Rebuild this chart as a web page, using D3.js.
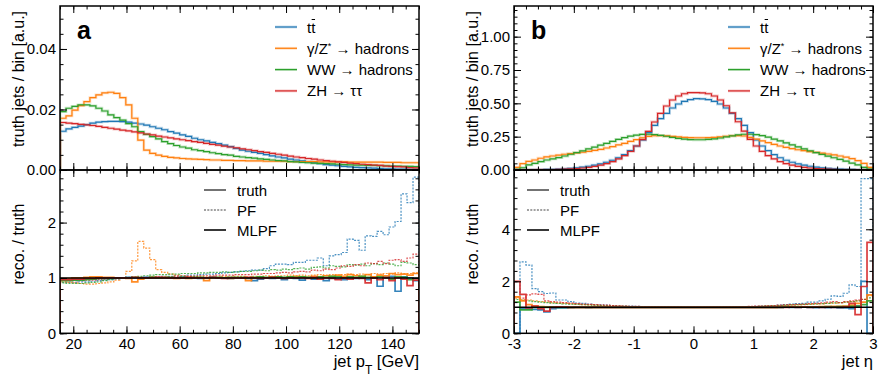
<!DOCTYPE html>
<html>
<head>
<meta charset="utf-8">
<script src="https://cdn.jsdelivr.net/npm/d3@7"></script>
<style>
  body { margin: 0; background: #fff; }
  svg { display: block; font-family: "Liberation Sans", Arial, Helvetica, sans-serif; }
</style>
</head>
<body>
<svg id="chart" width="888" height="377"></svg>
<script>
// ---- data (60 bins per panel) ----
const seriesNames = ["tt", "gz", "ww", "zh"];
const seriesColors = ["#1f77b4", "#ff7f0e", "#2ca02c", "#d62728"];

// panel a: jet pT, 15..150 GeV
const ttPt = [0.0128,0.0136,0.0141,0.0145,0.0150,0.0155,0.0158,0.0160,0.0161,0.0161,
  0.0160,0.0158,0.0155,0.0152,0.0148,0.0143,0.0138,0.0133,0.0127,0.0122,
  0.0116,0.0111,0.0105,0.0100,0.0096,0.0091,0.0087,0.0082,0.0077,0.0071,
  0.0066,0.0062,0.0058,0.0055,0.0051,0.0047,0.0043,0.0040,0.0036,0.0033,
  0.0030,0.0027,0.0024,0.0021,0.0018,0.0016,0.0014,0.0012,0.0010,0.0009,
  0.0008,0.0007,0.0006,0.0005,0.0004,0.0004,0.0003,0.0003,0.0002,0.0002];
const gzPt = [0.0171,0.0179,0.0198,0.0213,0.0226,0.0239,0.0248,0.0255,0.0257,0.0253,
  0.0239,0.0215,0.0171,0.0099,0.0066,0.0055,0.0049,0.0045,0.0042,0.0040,
  0.0038,0.0037,0.0036,0.0035,0.0034,0.0033,0.0033,0.0032,0.0032,0.0031,
  0.0031,0.0030,0.0030,0.0030,0.0029,0.0029,0.0029,0.0029,0.0028,0.0028,
  0.0028,0.0028,0.0028,0.0027,0.0027,0.0027,0.0027,0.0027,0.0026,0.0026,
  0.0026,0.0026,0.0026,0.0026,0.0025,0.0025,0.0025,0.0024,0.0024,0.0024];
const wwPt = [0.0193,0.0204,0.0210,0.0215,0.0215,0.0212,0.0204,0.0195,0.0182,0.0173,
  0.0165,0.0153,0.0143,0.0127,0.0118,0.0110,0.0103,0.0094,0.0087,0.0081,
  0.0076,0.0072,0.0067,0.0064,0.0061,0.0057,0.0054,0.0051,0.0049,0.0045,
  0.0043,0.0041,0.0039,0.0037,0.0035,0.0033,0.0031,0.0030,0.0028,0.0027,
  0.0025,0.0024,0.0023,0.0022,0.0021,0.0020,0.0019,0.0018,0.0017,0.0016,
  0.0016,0.0015,0.0015,0.0014,0.0014,0.0013,0.0013,0.0012,0.0012,0.0011];
const zhPt = [0.0157,0.0155,0.0153,0.0151,0.0149,0.0147,0.0144,0.0141,0.0138,0.0135,
  0.0132,0.0129,0.0126,0.0123,0.0119,0.0116,0.0112,0.0109,0.0106,0.0103,
  0.0100,0.0097,0.0094,0.0091,0.0088,0.0085,0.0082,0.0079,0.0076,0.0073,
  0.0070,0.0067,0.0064,0.0061,0.0058,0.0055,0.0052,0.0049,0.0046,0.0043,
  0.0041,0.0038,0.0036,0.0033,0.0031,0.0029,0.0027,0.0025,0.0023,0.0021,
  0.0019,0.0018,0.0016,0.0015,0.0013,0.0012,0.0011,0.0010,0.0008,0.0007];

const pfTtPt = [0.92,0.92,0.92,0.93,0.93,0.94,0.95,0.96,0.97,0.98,
  0.99,1.00,1.00,1.01,1.01,1.02,1.02,1.03,1.03,1.04,
  1.04,1.05,1.05,1.06,1.07,1.07,1.08,1.09,1.10,1.11,
  1.12,1.13,1.14,1.14,1.17,1.22,1.25,1.25,1.24,1.28,
  1.28,1.32,1.32,1.36,1.22,1.40,1.42,1.46,1.70,1.68,
  1.50,1.76,1.75,1.84,1.78,1.92,2.02,2.52,2.36,2.82];
const pfGzPt = [0.93,0.92,0.91,0.90,0.89,0.89,0.90,0.91,0.93,0.96,
  1.00,1.12,1.31,1.66,1.54,1.33,1.15,1.10,1.07,1.05,
  1.04,1.03,1.03,1.03,1.02,1.02,1.02,1.03,1.02,1.03,
  1.03,1.02,1.03,1.03,1.04,1.03,1.04,1.04,1.05,1.04,
  1.05,1.04,1.05,1.06,1.05,1.06,1.05,1.06,1.07,1.06,
  1.07,1.06,1.08,1.07,1.08,1.07,1.09,1.08,1.08,1.09];
const pfWwPt = [0.91,0.90,0.90,0.90,0.91,0.92,0.93,0.95,0.97,0.99,
  1.00,1.01,1.02,1.03,1.04,1.05,1.06,1.06,1.07,1.07,
  1.08,1.08,1.08,1.09,1.09,1.10,1.10,1.11,1.10,1.11,
  1.12,1.12,1.13,1.14,1.13,1.15,1.14,1.16,1.15,1.17,
  1.18,1.16,1.19,1.20,1.18,1.22,1.21,1.20,1.24,1.23,
  1.25,1.22,1.26,1.24,1.27,1.25,1.22,1.28,1.27,1.24];
const pfZhPt = [0.96,0.95,0.95,0.95,0.96,0.96,0.97,0.98,0.99,1.00,
  1.00,1.00,1.01,1.01,1.01,1.02,1.02,1.02,1.02,1.03,
  1.03,1.03,1.03,1.04,1.04,1.04,1.05,1.05,1.05,1.06,
  1.06,1.06,1.07,1.07,1.08,1.08,1.09,1.10,1.09,1.11,
  1.12,1.11,1.14,1.13,1.16,1.15,1.18,1.22,1.21,1.24,
  1.22,1.27,1.26,1.30,1.26,1.32,1.33,1.30,1.36,1.43];

const mlpfTtPt = [0.96,0.96,0.97,0.97,0.98,0.98,0.99,0.99,1.00,1.00,
  1.00,1.01,1.00,1.00,1.01,1.00,1.00,1.01,1.00,1.00,
  1.01,1.00,1.00,0.99,1.00,1.01,1.00,1.00,0.99,1.00,
  1.00,0.99,0.95,0.98,1.00,0.99,1.01,0.97,1.00,0.99,
  0.96,1.00,0.98,1.01,0.95,1.00,0.98,0.97,1.01,0.99,
  1.00,0.97,1.02,0.85,1.00,1.03,0.76,1.02,1.00,0.95];
const mlpfGzPt = [0.99,0.99,1.00,1.00,1.01,1.02,1.02,1.01,1.01,1.00,
  1.00,0.99,0.93,0.98,1.00,1.01,1.00,1.01,1.00,0.99,
  1.00,0.99,1.00,1.00,0.95,1.00,1.00,1.00,0.99,1.00,
  1.00,0.95,1.00,1.01,1.00,1.02,1.01,1.00,1.02,1.03,
  1.02,1.01,1.03,1.02,1.04,1.03,1.05,1.03,1.06,1.04,
  1.03,1.06,1.02,1.05,1.04,1.08,1.06,1.07,1.05,1.08];
const mlpfWwPt = [0.95,0.95,0.96,0.96,0.97,0.98,0.99,0.99,1.00,1.00,
  1.00,1.00,1.01,1.00,1.00,1.01,1.00,1.00,1.01,1.00,
  1.01,1.00,1.01,1.01,1.00,1.01,1.01,1.00,1.01,1.01,
  1.01,1.00,1.01,1.02,1.01,1.01,1.02,1.01,1.02,1.01,
  1.02,1.01,1.00,1.02,1.01,1.03,1.02,1.00,1.02,1.01,
  1.03,1.01,1.00,1.02,1.01,0.98,1.02,1.01,0.97,0.99];
const mlpfZhPt = [0.97,0.97,0.98,0.98,0.99,0.99,1.00,1.00,1.00,1.00,
  1.00,1.00,1.01,1.00,1.00,1.00,1.01,1.00,1.00,1.00,
  1.00,1.01,1.00,1.00,1.00,1.01,1.00,0.99,1.00,1.00,
  1.00,1.01,1.00,0.99,1.00,1.01,1.00,0.99,1.00,1.00,
  1.00,0.99,1.01,0.98,1.00,0.99,0.97,1.00,0.98,1.00,
  0.99,0.91,1.00,0.97,1.01,0.95,1.00,0.98,0.86,0.96];

// panel b: jet eta, -3..3
const ttEta = [0.000,0.001,0.001,0.002,0.003,0.004,0.005,0.007,0.009,0.012,
  0.016,0.021,0.028,0.036,0.046,0.058,0.073,0.092,0.115,0.145,
  0.180,0.225,0.280,0.335,0.385,0.425,0.465,0.495,0.515,0.528,
  0.535,0.533,0.528,0.515,0.495,0.465,0.425,0.385,0.335,0.280,
  0.225,0.180,0.145,0.115,0.092,0.073,0.058,0.046,0.036,0.028,
  0.021,0.016,0.012,0.009,0.007,0.005,0.004,0.003,0.002,0.001];
const gzEta = [0.020,0.048,0.065,0.075,0.088,0.098,0.105,0.112,0.118,0.123,
  0.128,0.133,0.140,0.147,0.155,0.165,0.175,0.188,0.200,0.215,
  0.228,0.242,0.252,0.257,0.258,0.256,0.252,0.248,0.245,0.243,
  0.242,0.242,0.243,0.245,0.249,0.253,0.257,0.258,0.255,0.245,
  0.232,0.218,0.205,0.192,0.180,0.170,0.160,0.152,0.145,0.138,
  0.132,0.126,0.120,0.113,0.105,0.096,0.085,0.070,0.050,0.020];
const wwEta = [0.005,0.017,0.038,0.050,0.063,0.075,0.083,0.093,0.105,0.118,
  0.130,0.143,0.158,0.172,0.186,0.200,0.215,0.230,0.243,0.254,
  0.262,0.267,0.268,0.265,0.260,0.253,0.245,0.237,0.232,0.228,
  0.227,0.227,0.229,0.233,0.240,0.248,0.256,0.263,0.268,0.268,
  0.265,0.258,0.246,0.232,0.218,0.203,0.188,0.173,0.158,0.144,
  0.130,0.117,0.104,0.092,0.080,0.066,0.052,0.038,0.020,0.006];
const zhEta = [0.000,0.000,0.001,0.001,0.002,0.002,0.003,0.004,0.006,0.008,
  0.011,0.015,0.020,0.027,0.036,0.048,0.063,0.083,0.108,0.140,
  0.180,0.228,0.290,0.360,0.425,0.480,0.525,0.555,0.572,0.580,
  0.580,0.578,0.572,0.555,0.525,0.482,0.428,0.362,0.292,0.230,
  0.180,0.140,0.108,0.083,0.063,0.048,0.036,0.027,0.020,0.015,
  0.011,0.008,0.006,0.004,0.003,0.002,0.002,0.001,0.001,0.000];

const pfTtEta = [0.00,2.75,2.62,1.72,1.60,1.53,1.55,1.28,1.28,1.22,
  1.16,1.15,1.12,1.10,1.09,1.08,1.07,1.06,1.05,1.05,
  1.04,1.03,1.03,1.02,1.02,1.01,1.01,1.01,1.00,1.00,
  1.00,1.00,1.00,1.01,1.01,1.01,1.02,1.02,1.03,1.03,
  1.04,1.05,1.06,1.07,1.08,1.10,1.12,1.14,1.15,1.20,
  1.20,1.25,1.31,1.44,1.42,1.54,1.86,1.80,5.95,5.95];
const pfGzEta = [1.35,1.30,1.28,1.25,1.22,1.20,1.18,1.16,1.15,1.13,
  1.12,1.10,1.09,1.08,1.07,1.06,1.05,1.05,1.04,1.03,
  1.03,1.02,1.02,1.02,1.01,1.01,1.01,1.00,1.00,1.00,
  1.00,1.00,1.00,1.01,1.01,1.01,1.02,1.02,1.02,1.03,
  1.03,1.04,1.05,1.05,1.06,1.07,1.08,1.09,1.10,1.11,
  1.12,1.13,1.15,1.16,1.18,1.20,1.22,1.25,1.32,1.45];
const pfWwEta = [1.30,1.27,1.25,1.22,1.20,1.18,1.16,1.15,1.13,1.12,
  1.11,1.10,1.09,1.08,1.07,1.06,1.05,1.04,1.04,1.03,
  1.03,1.02,1.02,1.01,1.01,1.01,1.00,1.00,1.00,1.00,
  1.00,1.00,1.00,1.00,1.01,1.01,1.01,1.02,1.02,1.03,
  1.03,1.04,1.05,1.06,1.07,1.08,1.09,1.10,1.11,1.12,
  1.13,1.14,1.15,1.17,1.18,1.20,1.22,1.25,1.30,1.36];
const pfZhEta = [1.40,1.35,1.48,1.52,1.50,1.25,1.22,1.20,1.18,1.16,
  1.14,1.12,1.11,1.10,1.09,1.08,1.07,1.06,1.05,1.04,
  1.04,1.03,1.03,1.02,1.02,1.01,1.01,1.01,1.00,1.00,
  1.00,1.00,1.01,1.01,1.01,1.02,1.02,1.03,1.03,1.04,
  1.05,1.05,1.06,1.07,1.08,1.09,1.10,1.11,1.12,1.14,
  1.15,1.17,1.20,1.22,1.18,1.22,1.25,1.28,1.30,1.25];

const mlpfTtEta = [0.00,0.95,0.95,0.92,0.90,0.82,0.95,0.98,0.98,0.99,
  1.00,1.00,0.99,1.00,1.00,1.00,1.00,1.00,1.00,1.00,
  1.00,1.00,1.00,1.00,1.00,1.00,1.00,1.00,1.00,1.00,
  1.00,1.00,1.00,1.00,1.00,1.00,1.00,1.00,1.00,1.00,
  1.00,1.00,1.00,1.00,1.00,1.01,1.00,1.00,1.01,1.00,
  0.99,1.00,0.99,1.00,0.98,0.98,0.95,1.05,2.00,0.00];
const mlpfGzEta = [1.40,1.25,1.10,1.05,1.03,1.02,1.02,1.01,1.01,1.00,
  1.00,1.00,1.00,1.00,1.00,1.00,1.00,1.00,1.00,1.00,
  1.00,1.00,1.00,1.00,1.00,1.00,1.00,1.00,1.00,1.00,
  1.00,1.00,1.00,1.00,1.00,1.00,1.00,1.00,1.00,1.00,
  1.00,1.00,1.00,1.00,1.01,1.01,1.01,1.01,1.02,1.02,
  1.02,1.03,1.03,1.04,1.04,1.05,1.08,1.15,1.20,1.48];
const mlpfWwEta = [1.20,0.90,0.90,1.00,1.00,1.00,1.01,1.00,1.00,1.00,
  1.00,1.00,1.00,1.00,1.00,1.00,1.00,1.00,1.00,1.00,
  1.00,1.00,1.00,1.00,1.00,1.00,1.00,1.00,1.00,1.00,
  1.00,1.00,1.00,1.00,1.00,1.00,1.00,1.00,1.00,1.00,
  1.00,1.00,1.00,1.00,1.00,1.01,1.01,1.01,1.01,1.02,
  1.02,1.02,1.03,1.02,1.03,1.03,1.04,1.05,1.10,1.25];
const mlpfZhEta = [2.00,1.50,0.98,1.05,0.95,0.85,1.00,1.02,1.01,1.00,
  1.00,1.00,1.00,1.00,1.00,1.00,1.00,1.00,1.00,1.00,
  1.00,1.00,1.00,1.00,1.00,1.00,1.00,1.00,1.00,1.00,
  1.00,1.00,1.00,1.00,1.00,1.00,1.00,1.00,1.00,1.00,
  1.00,1.00,1.00,1.00,1.00,1.00,1.01,1.00,1.01,1.00,
  1.01,1.00,1.01,1.00,1.00,1.02,1.15,0.72,1.80,3.50];

const legendTop = ["tt", "gz", "ww", "zh"];
const legendBottom = ["truth", "PF", "MLPF"];

// ---- layout ----
const svg = d3.select("#chart");
const yTop0 = 6, yMid = 170, yBot = 333.3;

function stepPoints(edges, vals) {
  const pts = [[edges[0], 0]];
  vals.forEach((v, i) => { pts.push([edges[i], v]); pts.push([edges[i + 1], v]); });
  pts.push([edges[edges.length - 1], 0]);
  return pts;
}

function styleAxis(g) {
  g.select(".domain").remove();
  g.attr("font-size", 15).attr("font-family", null);
  g.selectAll("line").attr("stroke", "#000").attr("stroke-width", 1);
  g.selectAll("text").attr("fill", "#000");
}

function ticksBox(g, x, y, xMajor, xMinor, yMajor, yMinor, x0, x1, y0, y1, opts) {
  // left
  g.append("g").attr("transform", `translate(${x0},0)`)
    .call(d3.axisLeft(y).tickValues(yMajor).tickSize(-7).tickPadding(4).tickFormat(opts.yFmt)).call(styleAxis);
  g.append("g").attr("transform", `translate(${x0},0)`)
    .call(d3.axisLeft(y).tickValues(yMinor).tickSize(-3.5).tickFormat("")).call(styleAxis);
  // right
  g.append("g").attr("transform", `translate(${x1},0)`)
    .call(d3.axisRight(y).tickValues(yMajor).tickSize(-7).tickFormat("")).call(styleAxis);
  g.append("g").attr("transform", `translate(${x1},0)`)
    .call(d3.axisRight(y).tickValues(yMinor).tickSize(-3.5).tickFormat("")).call(styleAxis);
  // bottom
  g.append("g").attr("transform", `translate(0,${y1})`)
    .call(d3.axisBottom(x).tickValues(xMajor).tickSize(-7).tickPadding(5).tickFormat(opts.xFmt || "")).call(styleAxis);
  g.append("g").attr("transform", `translate(0,${y1})`)
    .call(d3.axisBottom(x).tickValues(xMinor).tickSize(-3.5).tickFormat("")).call(styleAxis);
  // top
  g.append("g").attr("transform", `translate(0,${y0})`)
    .call(d3.axisTop(x).tickValues(xMajor).tickSize(-7).tickFormat("")).call(styleAxis);
  g.append("g").attr("transform", `translate(0,${y0})`)
    .call(d3.axisTop(x).tickValues(xMinor).tickSize(-3.5).tickFormat("")).call(styleAxis);
}

function drawPanel(cfg) {
  const x = d3.scaleLinear().domain(cfg.xDomain).range([cfg.x0, cfg.x1]);
  const yT = d3.scaleLinear().domain(cfg.topDomain).range([yMid, yTop0]);
  const yB = d3.scaleLinear().domain(cfg.botDomain).range([yBot, yMid]);
  const g = svg.append("g");

  const clipT = "clipT" + cfg.tag, clipB = "clipB" + cfg.tag;
  const defs = svg.append("defs");
  defs.append("clipPath").attr("id", clipT).append("rect")
    .attr("x", cfg.x0).attr("y", yTop0).attr("width", cfg.x1 - cfg.x0).attr("height", yMid - yTop0);
  defs.append("clipPath").attr("id", clipB).append("rect")
    .attr("x", cfg.x0).attr("y", yMid).attr("width", cfg.x1 - cfg.x0).attr("height", yBot - yMid);

  const lineT = d3.line().x(d => x(d[0])).y(d => yT(d[1]));
  const lineB = d3.line().x(d => x(d[0])).y(d => yB(d[1]));

  // top: truth distributions (pale wide + thin)
  const gt = g.append("g").attr("clip-path", `url(#${clipT})`);
  cfg.top.forEach((vals, k) => {
    gt.append("path").attr("d", lineT(stepPoints(cfg.edges, vals)))
      .attr("fill", "none").attr("stroke", seriesColors[k]).attr("stroke-width", 2.8).attr("stroke-opacity", 0.25);
  });
  cfg.top.forEach((vals, k) => {
    gt.append("path").attr("d", lineT(stepPoints(cfg.edges, vals)))
      .attr("fill", "none").attr("stroke", seriesColors[k]).attr("stroke-width", 1.2);
  });

  // bottom: ratios
  const gb = g.append("g").attr("clip-path", `url(#${clipB})`);
  cfg.pf.forEach((vals, k) => {
    gb.append("path").attr("d", lineB(stepPoints(cfg.edges, vals)))
      .attr("fill", "none").attr("stroke", seriesColors[k]).attr("stroke-width", 1.2)
      .attr("stroke-dasharray", "2,1.3").attr("stroke-opacity", 0.8);
  });
  cfg.mlpf.forEach((vals, k) => {
    gb.append("path").attr("d", lineB(stepPoints(cfg.edges, vals)))
      .attr("fill", "none").attr("stroke", seriesColors[k]).attr("stroke-width", 1.7).attr("stroke-opacity", 0.9);
  });
  gb.append("line").attr("x1", x(cfg.xDomain[0])).attr("x2", x(cfg.xDomain[1]))
    .attr("y1", yB(1)).attr("y2", yB(1)).attr("stroke", "#000").attr("stroke-width", 1.4);

  // ticks
  ticksBox(g, x, yT, cfg.xMajor, cfg.xMinor, cfg.topMajor, cfg.topMinor, cfg.x0, cfg.x1, yTop0, yMid,
    { yFmt: d3.format(".2f") });
  ticksBox(g, x, yB, cfg.xMajor, cfg.xMinor, cfg.botMajor, cfg.botMinor, cfg.x0, cfg.x1, yMid, yBot,
    { yFmt: d3.format("d"), xFmt: d => String(d) });

  // frames
  [[yTop0, yMid], [yMid, yBot]].forEach(([a, b]) => {
    g.append("rect").attr("x", cfg.x0).attr("y", a).attr("width", cfg.x1 - cfg.x0).attr("height", b - a)
      .attr("fill", "none").attr("stroke", "#000").attr("stroke-width", 1.5);
  });

  // panel letter
  g.append("text").attr("x", cfg.x0 + 17).attr("y", 39).attr("font-size", 25).attr("font-weight", "bold").text(cfg.tag);

  // y labels
  const lx = cfg.x0 - 36;
  g.append("text").attr("transform", `translate(${lx},79) rotate(-90)`).attr("text-anchor", "middle")
    .attr("font-size", 16).text("truth jets / bin [a.u.]");
  g.append("text").attr("transform", `translate(${lx},244) rotate(-90)`).attr("text-anchor", "middle")
    .attr("font-size", 16).text("reco. / truth");

  // x label
  const xl = g.append("text").attr("x", cfg.x1).attr("y", 367).attr("text-anchor", "end").attr("font-size", 16.5);
  cfg.xLabel(xl);

  // top legend
  const lg = g.append("g").attr("transform", `translate(${cfg.legX},0)`);
  legendTop.forEach((key, k) => {
    const yy = 27 + k * 21.3;
    const idx = seriesNames.indexOf(key);
    lg.append("line").attr("x1", 0).attr("x2", 22).attr("y1", yy).attr("y2", yy)
      .attr("stroke", seriesColors[idx]).attr("stroke-width", 2.8).attr("stroke-opacity", 0.25);
    lg.append("line").attr("x1", 0).attr("x2", 22).attr("y1", yy).attr("y2", yy)
      .attr("stroke", seriesColors[idx]).attr("stroke-width", 1.2);
    const t = lg.append("text").attr("x", 32).attr("y", yy + 5.5).attr("font-size", 15);
    if (key === "tt") {
      t.text("tt");
      // bar over the second t
      const node = t.node();
      const s = node.getStartPositionOfChar(1).x, e = node.getEndPositionOfChar(1).x;
      lg.append("line").attr("x1", s + 0.5).attr("x2", e - 0.3).attr("y1", yy - 7.5).attr("y2", yy - 7.5)
        .attr("stroke", "#000").attr("stroke-width", 1);
    } else if (key === "gz") {
      t.append("tspan").text("\u03b3/Z");
      t.append("tspan").attr("baseline-shift", "super").attr("font-size", 9).text("*");
      t.append("tspan").text(" \u2192 hadrons");
    } else if (key === "ww") {
      t.text("WW \u2192 hadrons");
    } else {
      t.text("ZH \u2192 \u03c4\u03c4");
    }
  });

  // bottom legend
  const lb = g.append("g").attr("transform", `translate(${cfg.legBX},0)`);
  legendBottom.forEach((name, k) => {
    const yy = 190 + k * 20;
    const ln = lb.append("line").attr("x1", 0).attr("x2", 22).attr("y1", yy).attr("y2", yy).attr("stroke", "#000");
    if (name === "truth") ln.attr("stroke-width", 1.1);
    if (name === "PF") ln.attr("stroke-width", 1.1).attr("stroke-dasharray", "2,1.3").attr("stroke", "#444");
    if (name === "MLPF") ln.attr("stroke-width", 1.8).attr("stroke", "#222");
    lb.append("text").attr("x", 33).attr("y", yy + 5.5).attr("font-size", 15).text(name);
  });
}

const ptEdges = d3.range(61).map(i => 15 + i * 2.25);
const etaEdges = d3.range(61).map(i => -3 + i * 0.1);

drawPanel({
  tag: "a", x0: 60, x1: 419, xDomain: [15, 150], edges: ptEdges,
  topDomain: [0, 0.0542], botDomain: [0, 2.95],
  xMajor: [20, 40, 60, 80, 100, 120, 140], xMinor: d3.range(15, 151, 5),
  topMajor: [0, 0.02, 0.04], topMinor: d3.range(0, 0.054, 0.005),
  botMajor: [0, 1, 2], botMinor: d3.range(0, 2.95, 0.2),
  top: [ttPt, gzPt, wwPt, zhPt],
  pf: [pfTtPt, pfGzPt, pfWwPt, pfZhPt],
  mlpf: [mlpfTtPt, mlpfGzPt, mlpfWwPt, mlpfZhPt],
  legX: 275, legBX: 204,
  xLabel: t => {
    t.append("tspan").text("jet p");
    t.append("tspan").attr("baseline-shift", "sub").attr("font-size", 12).text("T");
    t.append("tspan").text(" [GeV]");
  }
});

drawPanel({
  tag: "b", x0: 514, x1: 873, xDomain: [-3, 3], edges: etaEdges,
  topDomain: [0, 1.23], botDomain: [0, 6.28],
  xMajor: [-3, -2, -1, 0, 1, 2, 3], xMinor: d3.range(-3, 3.01, 0.2),
  topMajor: [0, 0.25, 0.5, 0.75, 1.0], topMinor: d3.range(0, 1.23, 0.05),
  botMajor: [0, 2, 4], botMinor: d3.range(0, 6.28, 0.4),
  top: [ttEta, gzEta, wwEta, zhEta],
  pf: [pfTtEta, pfGzEta, pfWwEta, pfZhEta],
  mlpf: [mlpfTtEta, mlpfGzEta, mlpfWwEta, mlpfZhEta],
  legX: 728, legBX: 527,
  xLabel: t => { t.text("jet \u03b7"); }
});
</script>
</body>
</html>
